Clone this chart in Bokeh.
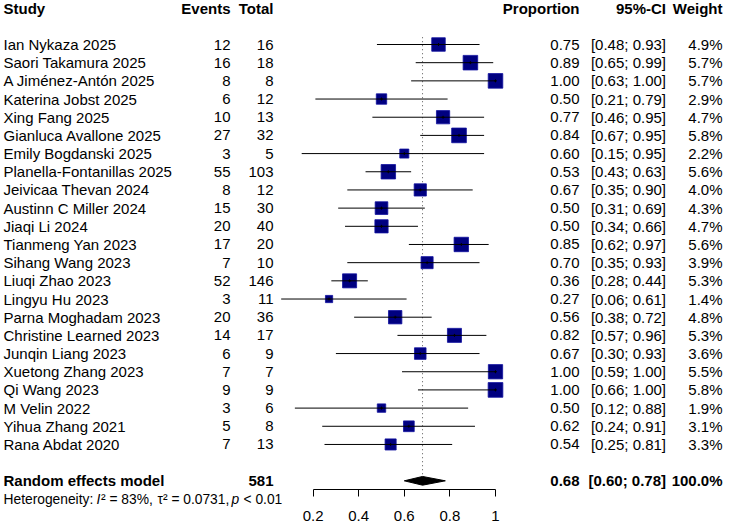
from bokeh.plotting import figure
from bokeh.models import ColumnDataSource, Range1d, FixedTicker
from bokeh.core.properties import value
from bokeh.embed import file_html
from bokeh.resources import INLINE

studies = ["Ian Nykaza 2025", "Saori Takamura 2025", "A Jiménez-Antón 2025", "Katerina Jobst 2025",
           "Xing Fang 2025", "Gianluca Avallone 2025", "Emily Bogdanski 2025", "Planella-Fontanillas 2025",
           "Jeivicaa Thevan 2024", "Austinn C Miller 2024", "Jiaqi Li 2024", "Tianmeng Yan 2023",
           "Sihang Wang 2023", "Liuqi Zhao 2023", "Lingyu Hu 2023", "Parna Moghadam 2023",
           "Christine Learned 2023", "Junqin Liang 2023", "Xuetong Zhang 2023", "Qi Wang 2023",
           "M Velin 2022", "Yihua Zhang 2021", "Rana Abdat 2020"]
events = [12, 16, 8, 6, 10, 27, 3, 55, 8, 15, 20, 17, 7, 52, 3, 20, 14, 6, 7, 9, 3, 5, 7]
totals = [16, 18, 8, 12, 13, 32, 5, 103, 12, 30, 40, 20, 10, 146, 11, 36, 17, 9, 7, 9, 6, 8, 13]
props = [0.75, 0.89, 1.00, 0.50, 0.77, 0.84, 0.60, 0.53, 0.67, 0.50, 0.50, 0.85, 0.70, 0.36, 0.27,
         0.56, 0.82, 0.67, 1.00, 1.00, 0.50, 0.62, 0.54]
ci_low = [0.48, 0.65, 0.63, 0.21, 0.46, 0.67, 0.15, 0.43, 0.35, 0.31, 0.34, 0.62, 0.35, 0.28, 0.06,
          0.38, 0.57, 0.30, 0.59, 0.66, 0.12, 0.24, 0.25]
ci_high = [0.93, 0.99, 1.00, 0.79, 0.95, 0.95, 0.95, 0.63, 0.90, 0.69, 0.66, 0.97, 0.93, 0.44, 0.61,
           0.72, 0.96, 0.93, 1.00, 1.00, 0.88, 0.91, 0.81]
weights = [4.9, 5.7, 5.7, 2.9, 4.7, 5.8, 2.2, 5.6, 4.0, 4.3, 4.7, 5.6, 3.9, 5.3, 1.4, 4.8, 5.3, 3.6,
           5.5, 5.8, 1.9, 3.1, 3.3]
pooled = 0.68
pooled_low = 0.60
pooled_high = 0.78
axis_ticks = [0.2, 0.4, 0.6, 0.8, 1.0]
axis_labels = ["0.2", "0.4", "0.6", "0.8", "1"]
headers = ["Study", "Events", "Total", "Proportion", "95%-CI", "Weight"]
het_parts = ["Heterogeneity:", "I", "² = 83%,", "τ² = 0.0731,", "p", "< 0.01"]

# ---------- layout helpers ----------
W, H = 730, 527
X_ORIGIN, X_SCALE = 267.0, 228.0       # pixel of proportion 0 and pixels per unit
ROW0_PX, ROW_PX = 44.0, 18.18          # pixel of first study row, pixels per row


def px2x(p):
    return (p - X_ORIGIN) / X_SCALE


def px2row(p):
    return (p - ROW0_PX) / ROW_PX


n = len(studies)
rows = list(range(n))
model_row = n + 1
het_row = px2row(499)
head_row = -2
axis_row = px2row(489)

FONT = "Liberation Sans"
FS = "15px"

p = figure(width=W, height=H, output_backend="svg", toolbar_location=None,
           x_range=Range1d(px2x(0), px2x(W)),
           y_range=Range1d(px2row(H), px2row(0)),
           min_border_left=0, min_border_right=0, min_border_top=0, min_border_bottom=0,
           y_axis_location=None,
           outline_line_color=None, background_fill_color="white", border_fill_color="white")
p.grid.visible = False

# x axis, drawn at a fixed position under the pooled row
ax = p.xaxis[0]
ax.fixed_location = axis_row
ax.ticker = FixedTicker(ticks=axis_ticks)
ax.major_label_overrides = {t: l for t, l in zip(axis_ticks, axis_labels)}
ax.bounds = (axis_ticks[0], axis_ticks[-1])
ax.minor_tick_line_color = None
ax.major_tick_in = 0
ax.major_tick_out = 7
ax.axis_line_color = "black"
ax.major_tick_line_color = "black"
ax.major_label_text_font = FONT
ax.major_label_text_font_size = FS
ax.major_label_text_color = "black"
ax.major_label_standoff = 14

# reference dotted line at pooled estimate
p.segment(x0=[pooled], y0=[-0.4], x1=[pooled], y1=[model_row - 0.24],
          line_color="#555555", line_width=1, line_dash="1 3")

src = ColumnDataSource(dict(
    y=rows, study=studies,
    ev=[str(e) for e in events], tot=[str(t) for t in totals],
    prop=props, lo=ci_low, hi=ci_high,
    prop_s=[f"{v:.2f}" for v in props],
    ci_s=[f"[{a:.2f}; {b:.2f}]" for a, b in zip(ci_low, ci_high)],
    w_s=[f"{w:.1f}%" for w in weights],
    size=[6.1 * (w ** 0.5) for w in weights],
))

# squares
p.scatter(x="prop", y="y", size="size", marker="square", source=src,
          fill_color="#000080", line_color="#1010a0", line_width=0.8)
# CI lines
p.segment(x0="lo", y0="y", x1="hi", y1="y", source=src, line_color="black", line_width=1)
p.scatter(x="prop", y="y", size=3, marker="cross", source=src, line_color="black", line_width=1)

# diamond
d = 0.24
p.patch(x=[pooled_low, pooled, pooled_high, pooled],
        y=[model_row, model_row - d, model_row, model_row + d],
        fill_color="black", line_color="black")

# table texts
tfont = value(FONT)
p.text(x=px2x(3), y="y", text="study", source=src, text_font=tfont, text_font_size=FS,
       text_baseline="middle", text_align="left", text_color="black")
cols = [("ev", 230), ("tot", 273), ("prop_s", 579), ("ci_s", 665.5), ("w_s", 722)]
for field, xp in cols:
    p.text(x=px2x(xp), y="y", text=field, source=src, text_font=tfont, text_font_size=FS,
           text_baseline="middle", text_align="right", text_color="black")

# headers
head_x = [3, 230, 273, 579, 665.5, 722]
head_align = ["left", "right", "right", "right", "right", "right"]
hsrc = ColumnDataSource(dict(x=[px2x(v) for v in head_x], y=[head_row] * len(headers),
                             t=headers, a=head_align))
p.text(x="x", y="y", text="t", text_align="a", source=hsrc, text_font=tfont, text_font_size=FS,
       text_font_style="bold", text_baseline="middle", text_color="black")

# pooled row
model_texts = ["Random effects model", str(sum(totals)), f"{pooled:.2f}",
               f"[{pooled_low:.2f}; {pooled_high:.2f}]", "100.0%"]
msrc = ColumnDataSource(dict(x=[px2x(v) for v in [3, 273, 579, 665.5, 722]],
                             y=[model_row] * 5, t=model_texts,
                             a=["left", "right", "right", "right", "right"]))
p.text(x="x", y="y", text="t", text_align="a", source=msrc, text_font=tfont, text_font_size=FS,
       text_font_style="bold", text_baseline="middle", text_color="black")

# heterogeneity line (pieces so that I and p are italic)
het_x = [3, 96, 100.5, 157, 231, 243]
het_style = ["normal", "italic", "normal", "normal", "italic", "normal"]
het_src = ColumnDataSource(dict(x=[px2x(v) for v in het_x], y=[het_row] * len(het_parts),
                                t=het_parts, s=het_style))
p.text(x="x", y="y", text="t", text_font_style="s", source=het_src, text_font=tfont,
       text_font_size="13.8px", text_baseline="middle", text_align="left", text_color="black")

open("out.html", "w").write(file_html(p, INLINE))
